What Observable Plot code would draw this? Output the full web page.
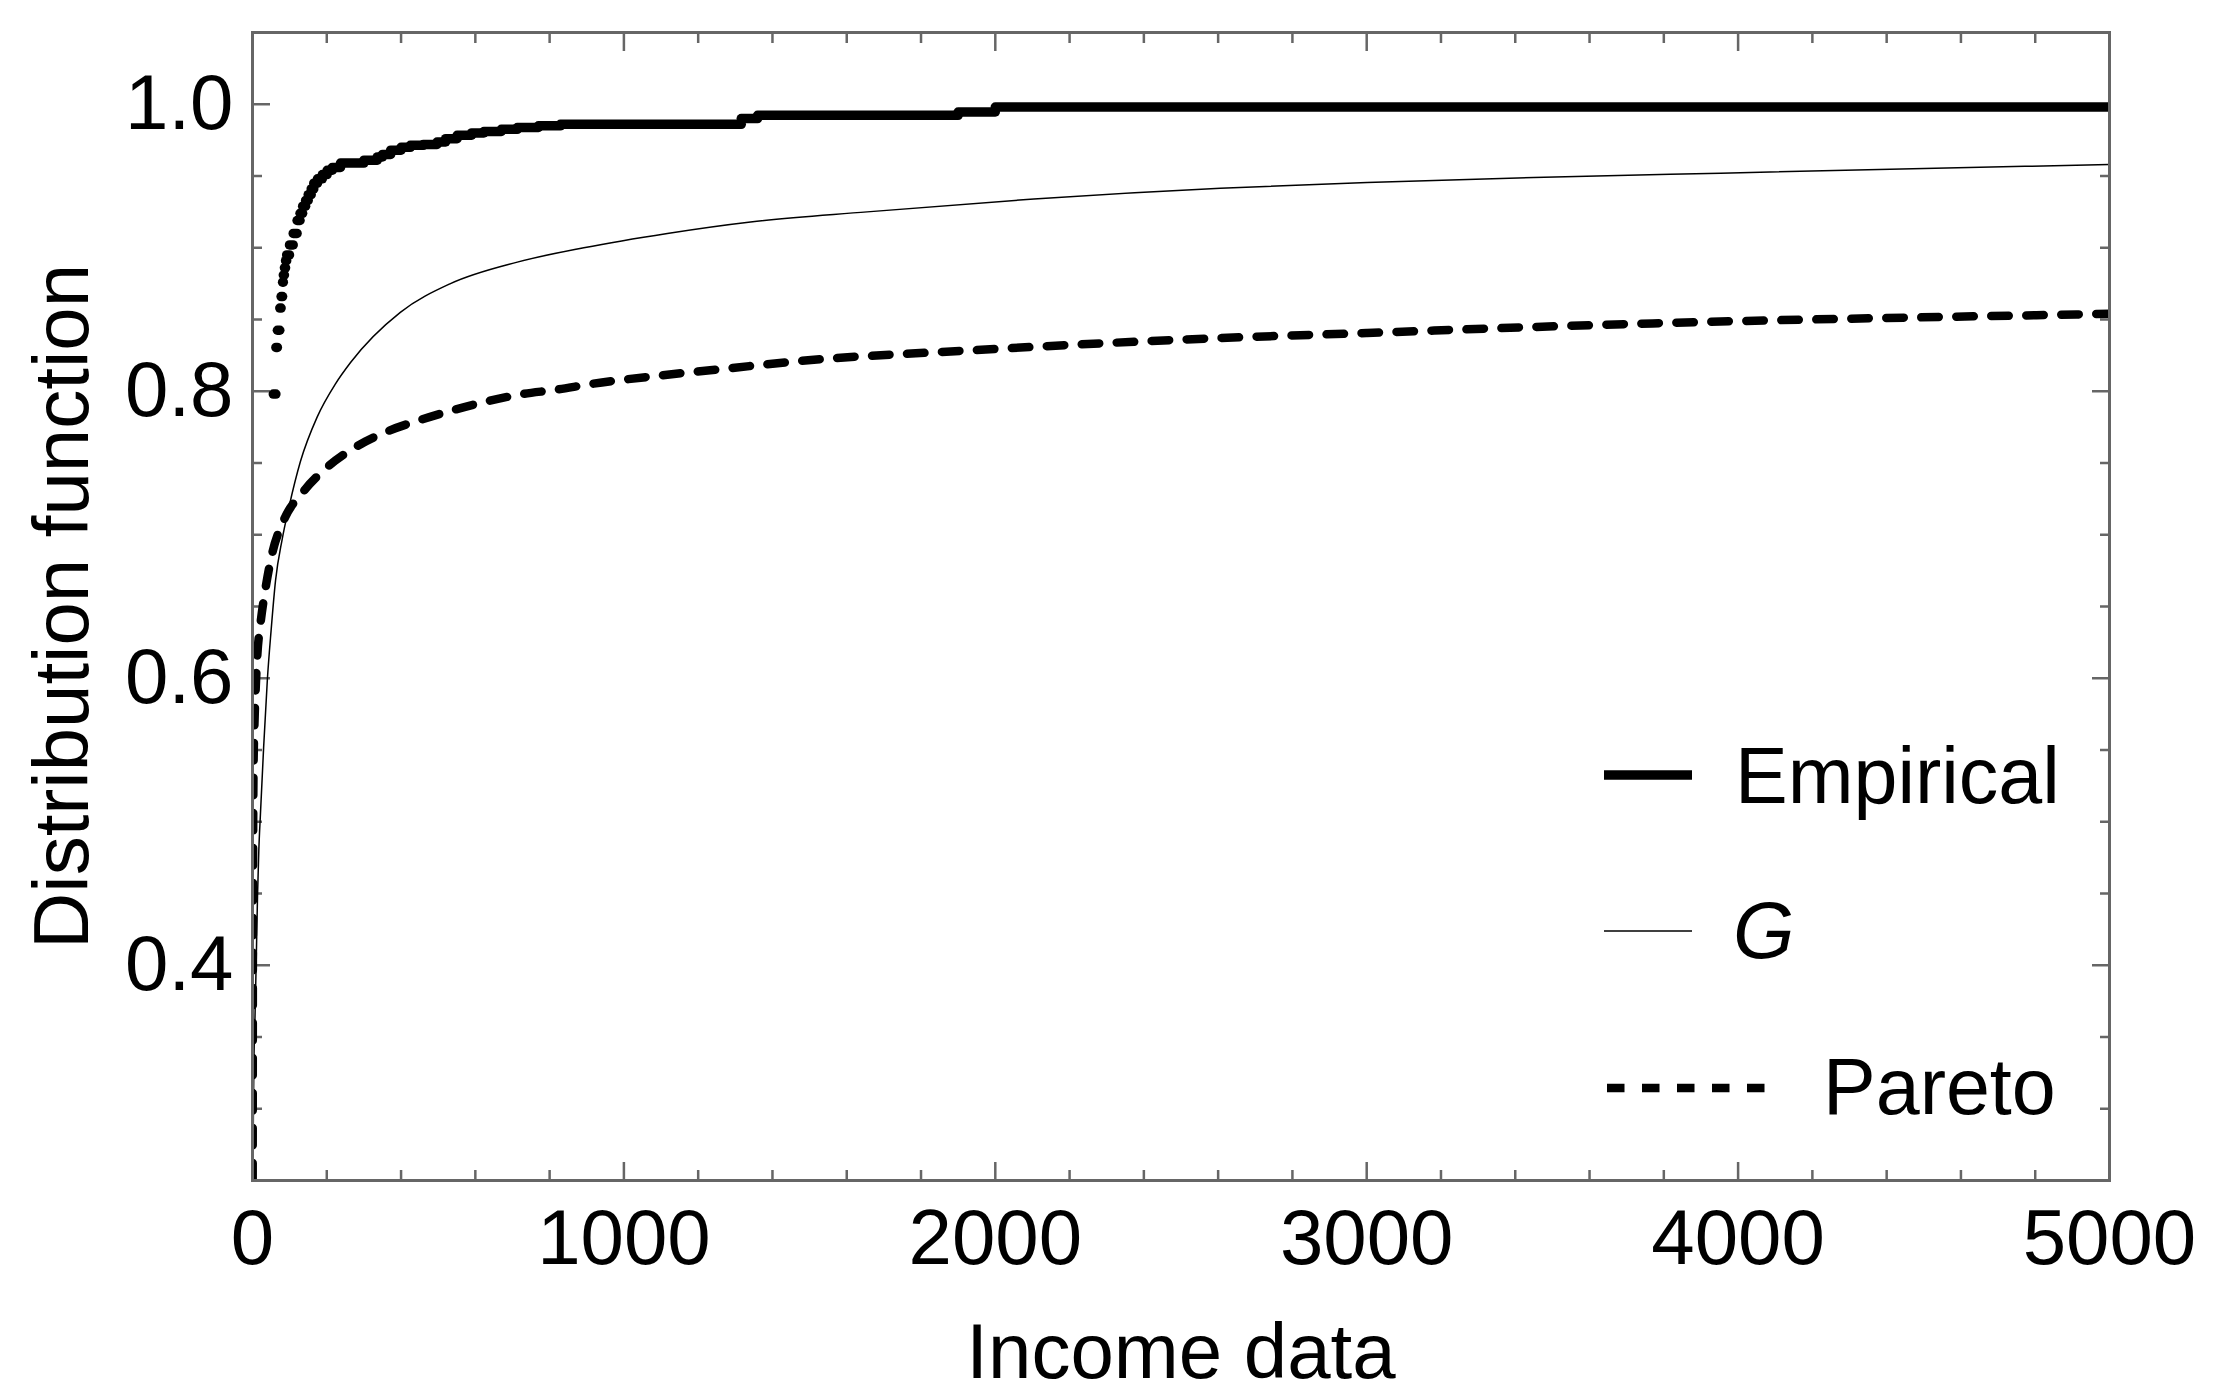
<!DOCTYPE html>
<html>
<head>
<meta charset="utf-8">
<script src="https://cdn.jsdelivr.net/npm/d3@7"></script>
<script src="https://cdn.jsdelivr.net/npm/@observablehq/plot@0.6"></script>
<style>
html, body { margin: 0; padding: 0; background: #fff; overflow: hidden; }
#wrap { position: relative; width: 2218px; height: 1398px; }
#legend { position: absolute; left: 0; top: 0; pointer-events: none; }
</style>
</head>
<body>
<div id="wrap"></div>
<script>
// ---------- data ----------
// Empirical CDF: level empiricalF[i] holds from empiricalX[i] to empiricalX[i+1]
const empiricalX = [56, 63, 67, 73.5, 77, 81, 83, 86, 89, 92, 99.6, 109.6, 120, 128, 135, 143, 150, 158, 165, 175, 188, 201, 215, 237, 300, 336, 350, 372, 400, 425, 460, 497, 520, 551, 590, 623, 670, 713, 770, 829, 1316, 1360, 1900, 2000, 5000];
const empiricalF = [0.798, 0.8305, 0.8425, 0.858, 0.866, 0.876, 0.881, 0.886, 0.891, 0.895, 0.902, 0.910, 0.919, 0.924, 0.929, 0.933, 0.937, 0.941, 0.945, 0.948, 0.951, 0.954, 0.956, 0.959, 0.961, 0.9633, 0.965, 0.968, 0.970, 0.9714, 0.972, 0.9737, 0.976, 0.9784, 0.980, 0.981, 0.9825, 0.9838, 0.985, 0.986, 0.990, 0.9923, 0.9946, 0.998, 0.998];

const gX = [1, 2.5, 3.6, 6.3, 9.9, 13.5, 17, 21.5, 30, 40, 50, 62, 80, 98, 129, 174, 223, 264, 398, 533, 713, 892, 1117, 1341, 1655, 2104, 2606, 3001, 3450, 3953, 5000];
const gF = [0.25, 0.30, 0.329, 0.359, 0.401, 0.448, 0.48, 0.506, 0.552, 0.599, 0.633, 0.668, 0.697, 0.719, 0.751, 0.782, 0.805, 0.820, 0.855, 0.875, 0.890, 0.900, 0.910, 0.918, 0.925, 0.934, 0.9415, 0.9455, 0.949, 0.952, 0.958];

const paretoX = [0.5, 1, 1.5, 2.7, 5, 8, 12.7, 21.5, 35, 53, 84, 138, 201, 277, 363, 452, 542, 632, 726, 816, 910, 1099, 1283, 1471, 1942, 2597, 3001, 3450, 3912, 4943, 5000];
const paretoF = [0.25, 0.40, 0.47, 0.535, 0.566, 0.589, 0.615, 0.638, 0.6625, 0.687, 0.710, 0.7305, 0.747, 0.761, 0.772, 0.780, 0.787, 0.793, 0.798, 0.801, 0.805, 0.811, 0.816, 0.821, 0.8286, 0.837, 0.8406, 0.8448, 0.8483, 0.8537, 0.854];

const xMajorTicks = [0, 1000, 2000, 3000, 4000, 5000];
const xMinorTicks = [200, 400, 600, 800, 1200, 1400, 1600, 1800, 2200, 2400, 2600, 2800, 3200, 3400, 3600, 3800, 4200, 4400, 4600, 4800];
const yMajorTicks = [0.4, 0.6, 0.8, 1.0];
const yMinorTicks = [0.3, 0.35, 0.45, 0.5, 0.55, 0.65, 0.7, 0.75, 0.85, 0.9, 0.95];

const xTitle = "Income data";
const yTitle = "Distribution function";
const legendNames = ["Empirical", "G", "Pareto"];

// ---------- tables ----------
const empSegments = empiricalX.slice(0, -1).map((x, i) => ({x1: x, x2: empiricalX[i + 1], y: empiricalF[i]}));
const gData = gX.map((x, i) => ({x, y: gF[i]}));
const paretoData = paretoX.map((x, i) => ({x, y: paretoF[i]}));

// ---------- styles ----------
const FONT = "'Liberation Sans', Arial, Helvetica, sans-serif";
const FS = 78;
const GRAY = "#666666";
const tickStyle = {stroke: GRAY, strokeWidth: 2.5, tickFormat: () => "", label: null};

const chart = Plot.plot({
  width: 2218,
  height: 1398,
  marginLeft: 252,
  marginRight: 109,
  marginTop: 32,
  marginBottom: 218,
  style: {fontFamily: FONT, fontSize: FS + "px", background: "#fff", color: "black"},
  x: {domain: [0, 5000], label: null},
  y: {domain: [0.25, 1.05], label: null},
  marks: [
    // inward ticks on all four sides
    Plot.axisX(xMajorTicks, {anchor: "bottom", tickSize: -18, ...tickStyle}),
    Plot.axisX(xMinorTicks, {anchor: "bottom", tickSize: -10, ...tickStyle}),
    Plot.axisX(xMajorTicks, {anchor: "top", tickSize: -18, ...tickStyle}),
    Plot.axisX(xMinorTicks, {anchor: "top", tickSize: -10, ...tickStyle}),
    Plot.axisY(yMajorTicks, {anchor: "left", tickSize: -18, ...tickStyle}),
    Plot.axisY(yMinorTicks, {anchor: "left", tickSize: -10, ...tickStyle}),
    Plot.axisY(yMajorTicks, {anchor: "right", tickSize: -18, ...tickStyle}),
    Plot.axisY(yMinorTicks, {anchor: "right", tickSize: -10, ...tickStyle}),
    // tick labels
    Plot.axisX(xMajorTicks, {anchor: "bottom", tickSize: 0, tickPadding: 28, fontSize: FS, fill: "black", tickFormat: d => String(d), label: null}),
    Plot.axisY(yMajorTicks, {anchor: "left", tickSize: 0, tickPadding: 19, fontSize: FS, fill: "black", tickFormat: d3.format(".1f"), label: null}),
    // axis titles
    Plot.text([xTitle], {frameAnchor: "bottom", dy: 197, lineAnchor: "bottom", textAnchor: "middle", fontSize: FS, fill: "black", text: d => d}),
    Plot.text([yTitle], {frameAnchor: "left", dx: -165, rotate: -90, lineAnchor: "bottom", textAnchor: "middle", fontSize: FS, fill: "black", text: d => d}),
    // curves
    Plot.line(gData, {x: "x", y: "y", stroke: "black", strokeWidth: 1.5, curve: "monotone-x", clip: true}),
    Plot.line(paretoData, {x: "x", y: "y", stroke: "black", strokeWidth: 8.5, strokeDasharray: "17.5,17.5", curve: "monotone-x", clip: true}),
    Plot.link(empSegments, {x1: "x1", x2: "x2", y1: "y", y2: "y", stroke: "black", strokeWidth: 9.5, strokeLinecap: "round", clip: true}),
    Plot.frame({stroke: GRAY, strokeWidth: 3})
  ]
});

const wrap = document.getElementById("wrap");
wrap.appendChild(chart);

// ---------- legend (overlay) ----------
const legendLayout = [
  {x1: 1604, x2: 1692, y: 775, w: 9.5, dash: null, tx: 1735, ty: 803, italic: false},
  {x1: 1604, x2: 1692, y: 931, w: 1.5, dash: null, tx: 1733, ty: 958, italic: true},
  {x1: 1607, x2: 1765, y: 1088, w: 8.5, dash: "17.5,17.5", tx: 1823, ty: 1114, italic: false}
];
const leg = d3.select(wrap).append("svg")
  .attr("id", "legend").attr("width", 2218).attr("height", 1398)
  .style("font-family", FONT);
legendNames.forEach((name, i) => {
  const L = legendLayout[i];
  leg.append("line")
    .attr("x1", L.x1).attr("x2", L.x2).attr("y1", L.y).attr("y2", L.y)
    .attr("stroke", "black").attr("stroke-width", L.w)
    .attr("stroke-dasharray", L.dash);
  leg.append("text")
    .attr("x", L.tx).attr("y", L.ty)
    .attr("font-size", 79)
    .attr("font-style", L.italic ? "italic" : "normal")
    .attr("fill", "black")
    .text(name);
});
</script>
</body>
</html>
